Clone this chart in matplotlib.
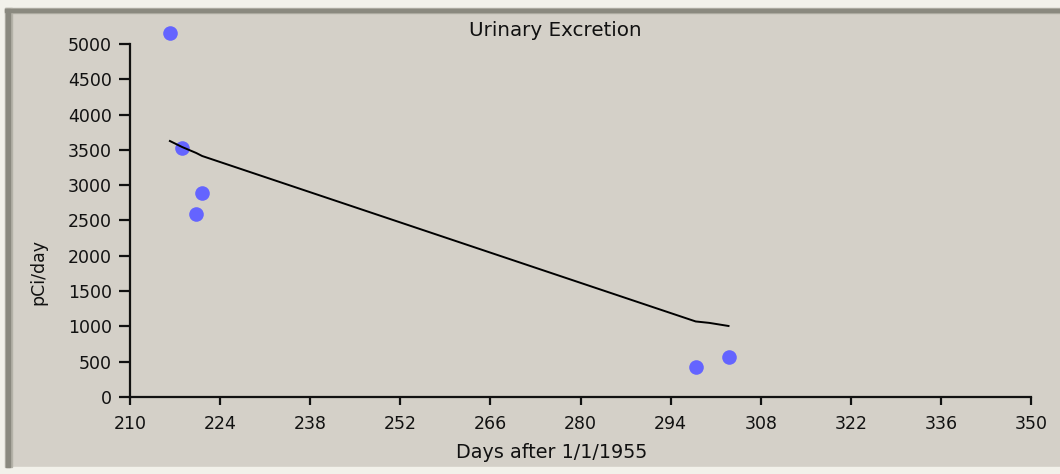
import matplotlib
matplotlib.use("Agg")
import matplotlib.pyplot as plt
from matplotlib.patches import Rectangle

# measured urine samples (day after 1/1/1955, pCi/day)
days = [216.2, 218.1, 220.3, 221.2, 297.9, 303.0]
excretion = [5160, 3530, 2590, 2890, 425, 565]

# fitted excretion curve evaluated at the sample days
fit_days = [216.2, 218.1, 220.3, 221.2, 297.9, 300.0, 303.0]
fit_values = [3626, 3541, 3456, 3414, 1070, 1050, 1006]

x_ticks = [210, 224, 238, 252, 266, 280, 294, 308, 322, 336, 350]
y_ticks = list(range(0, 5001, 500))

BG = "#D4D0C8"
W, H = 1060, 474

fig = plt.figure(figsize=(W / 100, H / 100), dpi=100, facecolor=BG)

# sunken window frame
def px_rect(x0, y0, x1, y1, color):
    fig.patches.append(Rectangle((x0 / W, 1 - y1 / H), (x1 - x0) / W, (y1 - y0) / H,
                                 transform=fig.transFigure, color=color, zorder=0))

px_rect(0, 0, W, 8, "#F2F1EA")
px_rect(0, 0, 5, H, "#F2F1EA")
px_rect(0, 467, W, H, "#F2F1EA")
px_rect(5, 8, W, 13, "#B4B2A8")
px_rect(5, 8, 12, 467, "#B4B2A8")
px_rect(5, 9, W, 12, "#8A897F")
px_rect(6, 9, 10, 467, "#8A897F")

ax = fig.add_axes([130 / W, 1 - 397 / H, 901 / W, 353 / H])
ax.set_facecolor(BG)
ax.patch.set_alpha(0)

ax.plot(fit_days, fit_values, color="black", lw=1.4, zorder=3)
ax.plot(days, excretion, linestyle="none", marker="o", markersize=10.5,
        color="#6464FF", markeredgewidth=0, clip_on=False, zorder=2)

ax.set_xlim(210, 350)
ax.set_ylim(0, 5000)
ax.set_xticks(x_ticks)
ax.set_yticks(y_ticks)

for s in ["top", "right"]:
    ax.spines[s].set_visible(False)
for s in ["left", "bottom"]:
    ax.spines[s].set_linewidth(1.6)
    ax.spines[s].set_color("#111111")

ax.tick_params(axis="x", direction="out", length=6, width=1.6, pad=7,
               labelsize=12.5, colors="#111111")
ax.tick_params(axis="y", direction="out", length=8, width=1.6, pad=5,
               labelsize=12.5, colors="#111111")

fig.text(555 / W, 1 - 30 / H, "Urinary Excretion", ha="center", va="center",
         fontsize=14.3, color="#111111")
fig.text(552 / W, 1 - 453 / H, "Days after 1/1/1955", ha="center", va="center",
         fontsize=13.8, color="#111111")
fig.text(38 / W, 1 - 272 / H, "pCi/day", ha="center", va="center",
         rotation=90, fontsize=12.5, color="#111111")

fig.savefig("out.png", dpi=100, facecolor=BG)
